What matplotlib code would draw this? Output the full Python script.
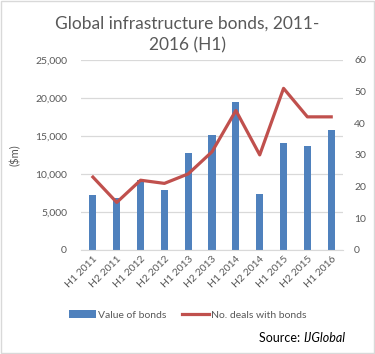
import matplotlib.pyplot as plt
import numpy as np

periods = ["H1 2011", "H2 2011", "H1 2012", "H2 2012", "H1 2013", "H2 2013",
           "H1 2014", "H2 2014", "H1 2015", "H2 2015", "H1 2016"]
value_bonds = [7200, 6800, 9200, 7900, 12700, 15100, 19400, 7400, 14100, 13700, 15800]
deals = [23, 15, 22, 21, 24, 31, 44, 30, 51, 42, 42]

grey = "#595959"
plt.rcParams['font.family'] = ['Lato', 'DejaVu Sans']

fig = plt.figure(figsize=(3.75, 3.54), dpi=100)
ax = fig.add_axes([0.216, 0.294, 0.699, 0.537])
ax2 = ax.twinx()

x = np.arange(len(periods))
ax.bar(x, value_bonds, width=0.3, color="#4F81BD", zorder=2, label="Value of bonds")
ax2.plot(x, deals, color="#C0504D", lw=2.3, zorder=3, label="No. deals with bonds")

ax.set_xlim(-0.5, len(periods) - 0.5)
ax.set_ylim(0, 25000)
ax2.set_ylim(0, 60)
ax.set_yticks(np.arange(0, 25001, 5000))
ax.set_yticklabels([f"{v:,}" for v in range(0, 25001, 5000)])
ax2.set_yticks(np.arange(0, 61, 10))
ax.yaxis.grid(True, color="#D9D9D9", lw=0.9, zorder=0)
ax.set_axisbelow(True)

ax.set_xticks(x)
ax.set_xticklabels(periods, rotation=45, ha="right", rotation_mode="anchor")
for a in (ax, ax2):
    for s in a.spines.values():
        s.set_visible(False)
    a.tick_params(length=0, colors=grey, labelsize=7.5)
ax.spines["bottom"].set_visible(True)
ax.spines["bottom"].set_color("#D9D9D9")
ax.tick_params(axis="y", pad=10)
ax2.tick_params(axis="y", pad=8)
ax.tick_params(axis="x", pad=3)

ax.set_ylabel("($m)", color=grey, fontsize=8, labelpad=10)

fig.text(0.5, 0.903, "Global infrastructure bonds, 2011-\n2016 (H1)", ha="center", va="center",
         fontsize=12.5, color=grey, linespacing=1.4)

h1, l1 = ax.get_legend_handles_labels()
h2, l2 = ax2.get_legend_handles_labels()
fig.legend(h1 + h2, l1 + l2, loc="center", bbox_to_anchor=(0.5, 0.11), ncol=2, frameon=False,
           fontsize=7.5, labelcolor=grey, handlelength=2.6, handletextpad=0.2, columnspacing=1.5)

fig.text(0.69, 0.045, "Source: ", ha="left", va="center", fontsize=9, color="black")
fig.text(0.808, 0.045, "IJGlobal", ha="left", va="center", fontsize=9, color="black", style="italic")

fig.patches.append(plt.Rectangle((0.003, 0.003), 0.994, 0.994, transform=fig.transFigure,
                                 fill=False, edgecolor="#D9D9D9", lw=1))

fig.savefig("out.png", dpi=100)
